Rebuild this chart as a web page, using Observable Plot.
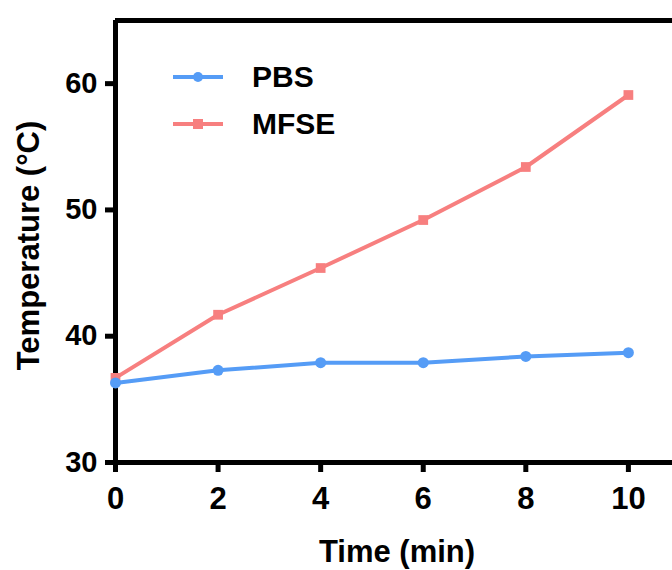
<!DOCTYPE html>
<html>
<head>
<meta charset="utf-8">
<script src="https://cdn.jsdelivr.net/npm/d3@7"></script>
<script src="https://cdn.jsdelivr.net/npm/@observablehq/plot@0.6"></script>
<style>
  html, body { margin: 0; padding: 0; background: #fff; }
  #wrap { position: relative; width: 672px; height: 570px; }
  #legend { position: absolute; left: 173px; top: 53px; font-family: "Liberation Sans", Arial, Helvetica, sans-serif; font-size: 30px; }
  .item { display: flex; align-items: center; height: 47px; font-weight: bold; color: #000; }
  .item svg { margin-right: 29px; }
</style>
</head>
<body>
<div id="wrap"></div>
<script>
const times = [0, 2, 4, 6, 8, 10];
const pbs = [36.3, 37.3, 37.9, 37.9, 38.4, 38.7];
const mfse = [36.7, 41.7, 45.4, 49.2, 53.4, 59.1];
const seriesNames = ["PBS", "MFSE"];
const seriesColors = ["#559CF6", "#F77F7F"];
const xTicks = [0, 2, 4, 6, 8, 10];
const yTicks = [30, 40, 50, 60];
const xLabel = "Time (min)";
const yLabel = "Temperature (°C)";

const rows = [];
times.forEach((t, i) => {
  rows.push({time: t, temp: pbs[i], series: seriesNames[0]});
  rows.push({time: t, temp: mfse[i], series: seriesNames[1]});
});
const pbsRows = rows.filter(d => d.series === "PBS");
const mfseRows = rows.filter(d => d.series === "MFSE");

const chart = Plot.plot({
  width: 672,
  height: 570,
  marginLeft: 115,
  marginRight: 0,
  marginTop: 20,
  marginBottom: 108,
  style: {fontFamily: "'Liberation Sans', Arial, Helvetica, sans-serif", fontSize: "29px", fontWeight: "bold", color: "#000", background: "#fff", overflow: "visible"},
  x: {domain: [0, 10.86]},
  y: {domain: [30, 65]},
  marks: [
    Plot.axisX({ticks: xTicks, tickSize: 10, tickPadding: 14, strokeWidth: 5, label: null, fontSize: 31, fontWeight: "bold"}),
    Plot.axisY({ticks: yTicks, tickSize: 10, tickPadding: 8, strokeWidth: 5, label: null, fontSize: 29, fontWeight: "bold"}),
    Plot.ruleY([30, 65], {strokeWidth: 5, stroke: "#000"}),
    Plot.ruleX([0], {strokeWidth: 5, stroke: "#000"}),
    Plot.line(mfseRows, {x: "time", y: "temp", stroke: seriesColors[1], strokeWidth: 4}),
    Plot.dot(mfseRows, {x: "time", y: "temp", symbol: "square", fill: seriesColors[1], r: 5.5}),
    Plot.line(pbsRows, {x: "time", y: "temp", stroke: seriesColors[0], strokeWidth: 4}),
    Plot.dot(pbsRows, {x: "time", y: "temp", symbol: "circle", fill: seriesColors[0], r: 5.5}),
    Plot.text([xLabel], {frameAnchor: "bottom", dx: 3, dy: 99, fontSize: 31, fontWeight: "bold"}),
    Plot.text([yLabel], {frameAnchor: "left", textAnchor: "middle", rotate: -90, dx: -86, dy: 4, fontSize: 31, fontWeight: "bold"})
  ]
});
const wrap = document.getElementById("wrap");
wrap.appendChild(chart);

const legend = document.createElement("div");
legend.id = "legend";
seriesNames.forEach((name, i) => {
  const item = document.createElement("div");
  item.className = "item";
  const sym = i === 0
    ? `<circle cx="25" cy="10" r="5" fill="${seriesColors[i]}"/>`
    : `<rect x="20" y="5" width="10" height="10" fill="${seriesColors[i]}"/>`;
  item.innerHTML = `<svg width="50" height="20"><line x1="0" x2="50" y1="10" y2="10" stroke="${seriesColors[i]}" stroke-width="4"/>${sym}</svg><span>${name}</span>`;
  legend.appendChild(item);
});
wrap.appendChild(legend);
</script>
</body>
</html>
